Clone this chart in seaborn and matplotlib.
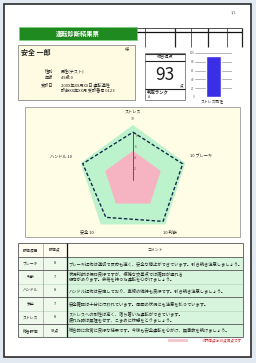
import numpy as np
import pandas as pd
import matplotlib
matplotlib.use("Agg")
import matplotlib.pyplot as plt
from matplotlib.patches import Rectangle
import seaborn as sns

sns.set_theme(style="white")
plt.rcParams['font.family'] = ['Noto Sans CJK JP', 'DejaVu Sans']

# ---------------- data ----------------
radar_labels = ["ストレス", "ブレーキ", "判断", "安全", "ハンドル"]
radar_scores = ["10", "10", "10", "10", "10"]
radar_values = [8.7, 9.5, 9.3, 8.4, 9.6]
radar_good = [10, 10, 10, 10, 10]
radar_caution = [5.3, 5.3, 5.3, 5.3, 5.3]
radar_ticks = [2, 4, 6, 8]

total_score = 93
bar_categories = ["ストレス耐性"]
bar_values = [93]
bar_ticks = [0, 20, 40, 60, 80, 100]

title_text = "運転診断結果票"
person_name = "安全 一郎"
info_labels = ["性別", "年齢", "受診日"]
info_values = ["男性(テスト)", "49歳 0", "20XX年XX月XX日 運転適性\n診断XX年XX月 受診番号 0123"]

table_header = ["評価項目", "評価点", "コメント"]
table_items = ["ブレーキ", "判断", "ハンドル", "安全", "ストレス", "総合評価"]
table_points = ["8", "7", "8", "7", "8", "93点"]
table_comments = [
    "ブレーキ操作は適切で反応も速く、安全な停止ができています。引き続き注意しましょう。",
    "状況判断は概ね良好ですが、複雑な交差点では確認が遅れる\n傾向があります。余裕を持った運転を心がけましょう。",
    "ハンドル操作は安定しており、車線の維持も良好です。引き続き注意しましょう。",
    "安全確認は十分に行われています。周囲の状況にも注意を払っています。",
    "ストレスへの耐性は高く、落ち着いた運転ができています。\n疲れた時は無理をせず、こまめに休憩をとりましょう。",
    "総合的に非常に良好な結果です。今後も安全運転を心がけ、無事故を続けましょう。",
]
note_text = "※評価点は10点満点です"

# ---------------- figure ----------------
W, H = 256, 363
fig = plt.figure(figsize=(W / 100, H / 100), dpi=100)
fig.patch.set_facecolor("#e3e9f0")

bg = fig.add_axes([0, 0, 1, 1])
bg.set_xlim(0, W)
bg.set_ylim(H, 0)
bg.axis("off")


def rect(x0, y0, x1, y1, fc="none", ec="none", lw=0.5, z=1):
    bg.add_patch(Rectangle((x0, y0), x1 - x0, y1 - y0, facecolor=fc,
                           edgecolor=ec, linewidth=lw, zorder=z))


def hline(x0, x1, y, c="#555555", lw=0.5, z=3):
    bg.plot([x0, x1], [y, y], color=c, lw=lw, zorder=z, solid_capstyle="butt")


def vline(x, y0, y1, c="#555555", lw=0.5, z=3):
    bg.plot([x, x], [y0, y1], color=c, lw=lw, zorder=z, solid_capstyle="butt")


def txt(x, y, s, fs=3.5, c="#222222", ha="left", va="center", **kw):
    bg.text(x, y, s, fontsize=fs, color=c, ha=ha, va=va, zorder=6, **kw)


# page
rect(4, 4, 251, 357, fc="white", ec="#2b2b2b", lw=1.2, z=0)
txt(234, 13, "1/1", fs=2.8, c="#666666", ha="center")

# title bar
rect(19, 27, 137, 40, fc="#1f8a1f", ec="#7ccf7c", lw=0.6, z=2)
txt(78, 33.5, title_text, fs=4.5, c="white", ha="center", fontweight="bold")

# stamp grid
hline(137, 242, 27.5, c="#333333", lw=0.6)
hline(137, 242, 31.5, c="#111111", lw=0.9)
for x, lw in [(145, 0.5), (175, 0.9), (191, 0.5), (208, 0.9), (227, 0.5), (241.5, 0.9)]:
    vline(x, 27.5, 47, c="#222222", lw=lw)

# name box
rect(18, 45, 135, 100, fc="#fffbe2", ec="#8a8a8a", lw=0.6, z=1)
txt(21, 53, person_name, fs=5.0, c="#222222", fontweight="bold")
txt(127, 50, "様", fs=3.0, c="#444444", ha="center")
info_y = [71, 78, 85]
for lab, val, y in zip(info_labels, info_values, info_y):
    txt(53, y, lab, fs=3.0, ha="right")
    txt(61, y + (2 if "\n" in val else 0), val, fs=3.0, linespacing=1.1)

# score box
rect(145, 53, 185, 100, fc="white", ec="#777777", lw=0.6, z=1)
hline(145, 185, 53.5, c="#333333", lw=0.8)
txt(165, 57, "総合得点", fs=3.0, ha="center")
hline(145, 185, 60.5, c="#222222", lw=0.8)
txt(165, 75, str(total_score), fs=12.5, c="#222222", ha="center")
txt(183, 85, "点", fs=2.6, ha="right")
hline(145, 185, 88.5, c="#222222", lw=0.8)
txt(147, 91.5, "判定ランク", fs=3.2, fontweight="bold")
txt(148, 97.5, "A", fs=2.6, c="#444444")

# bar chart (seaborn)
axb = fig.add_axes([195 / W, (H - 97) / H, 37 / W, 44 / H])
bdf = pd.DataFrame({"cat": bar_categories, "val": bar_values})
sns.barplot(data=bdf, x="cat", y="val", color="#3b2fe6", width=0.43,
            saturation=1, ax=axb, zorder=3)
axb.set_ylim(0, 100)
axb.set_xlim(-0.5, 0.5)
axb.set_yticks(bar_ticks)
axb.set_yticklabels([str(t) for t in bar_ticks], fontsize=2.2, color="#666666")
axb.tick_params(axis="y", length=0, pad=0.5)
axb.set_xticks([])
axb.set_xlabel("")
axb.set_ylabel("")
axb.yaxis.grid(True, color="#999999", lw=0.5)
axb.set_axisbelow(True)
for s in axb.spines.values():
    s.set_visible(False)
axb.patch.set_alpha(0)
txt(212, 101, bar_categories[0], fs=2.8, ha="center")

# radar panel
rect(25, 107, 240, 237, fc="#fffde6", ec="#9a9a9a", lw=0.6, z=1)
cx, cy, R = 133, 180, 55
axr = fig.add_axes([(cx - R) / W, (H - cy - R) / H, 2 * R / W, 2 * R / H],
                   projection="polar")
axr.set_theta_offset(np.pi / 2)
axr.set_theta_direction(-1)
axr.set_ylim(0, 10)
axr.axis("off")
axr.patch.set_alpha(0)
n = len(radar_labels)
ang = np.linspace(0, 2 * np.pi, n, endpoint=False)
angc = np.append(ang, ang[0])


def closed(v):
    return np.append(v, v[0])


axr.fill(angc, closed(radar_good), color="#bdf3cc", zorder=1, lw=0)
axr.fill(angc, closed(radar_caution), color="#f6b3c2", zorder=2, lw=0)
axr.plot([0, 0], [0, radar_values[0]], color="#2a7a2a", lw=0.7, zorder=3)
for t in radar_ticks:
    axr.text(0.06, t, str(t), fontsize=2.2, color="#883333", ha="left", va="center")
axr.plot(angc, closed(radar_values), color="#13294b", lw=1.0, ls=(0, (2.5, 1.5)),
         zorder=4)

# radar labels
txt(133, 112, radar_labels[0], fs=3.0, ha="center")
txt(133, 118.5, radar_scores[0], fs=2.6, ha="center", c="#555555")
txt(190, 157, radar_scores[1] + " " + radar_labels[1], fs=3.0)
txt(163, 232, radar_scores[2] + " " + radar_labels[2], fs=3.0)
txt(80, 232, radar_labels[3] + " " + radar_scores[3], fs=3.0)
txt(50, 157, radar_labels[4] + " " + radar_scores[4], fs=3.0)

# table
row_y = [243, 257, 270, 283.5, 297, 310.5, 324, 337]
x0, x1, x2, x3 = 18, 43, 67, 243
rect(x0, row_y[0], x3, row_y[1], fc="#fffdf0", z=1)
rect(x0, row_y[1], x2, row_y[-1], fc="#eef9ec", z=1)
rect(x2, row_y[1], x3, row_y[-1], fc="#d6f5dc", z=1)
txt((x0 + x1) / 2, 250, table_header[0], fs=2.8, ha="center")
txt((x1 + x2) / 2, 250, table_header[1], fs=2.8, ha="center")
txt((x2 + x3) / 2, 250, table_header[2], fs=2.8, ha="center")
for i, (it, pt, cm) in enumerate(zip(table_items, table_points, table_comments)):
    ym = (row_y[i + 1] + row_y[i + 2]) / 2
    txt((x0 + x1) / 2, ym, it, fs=2.8, ha="center")
    txt((x1 + x2) / 2, ym, pt, fs=2.8, ha="center")
    txt(x2 + 1.5, ym, cm, fs=3.1, c="#222222", linespacing=1.0)
for y in [243, 257, 270, 297, 324, 337]:
    hline(x0, x3, y, c="#555555", lw=0.6)
for y in [283.5, 310.5]:
    hline(x0, x3, y, c="#b5cfb5", lw=0.4)
vline(x0, 243, 337, c="#555555", lw=0.6)
vline(x1, 243, 337, c="#888888", lw=0.4)
vline(x2, 243, 337, c="#111111", lw=0.9)
vline(x3, 243, 337, c="#555555", lw=0.6)

rect(168, 339, 188, 342, fc="#f4c7cf", z=1)
txt(242, 341, note_text, fs=2.6, c="#d42020", ha="right")

fig.savefig("out.png", dpi=100)
